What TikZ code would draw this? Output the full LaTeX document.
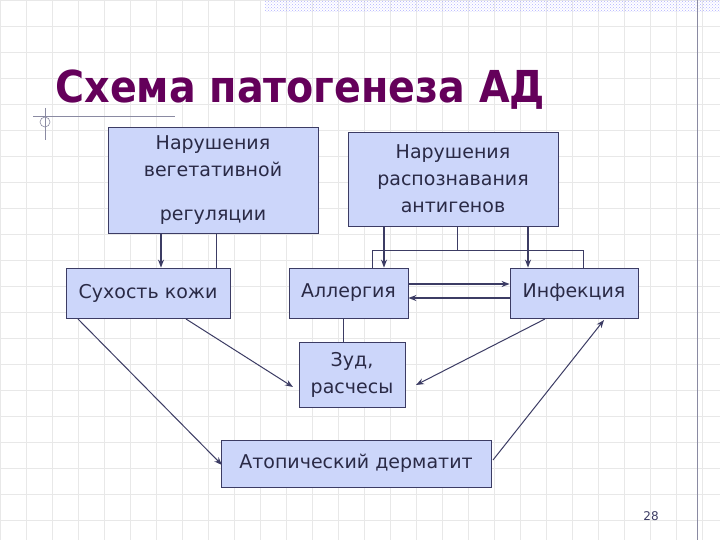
\documentclass[tikz,border=0pt]{standalone}
\usepackage{fontspec}
\setmainfont{DejaVu Sans}
\newfontfamily\titlefont{DejaVu Sans Condensed Bold}
\usetikzlibrary{arrows.meta,patterns}
\definecolor{boxfill}{RGB}{204,214,250}
\definecolor{ln}{RGB}{60,60,100}
\definecolor{ttl}{RGB}{100,0,90}
\tikzset{x=1pt,y=-1pt,
 bx/.style={draw=ln,fill=boxfill,line width=0.8pt,align=center,font=\fontsize{19}{27}\selectfont,inner sep=0pt,text=ln!70!black},
 ar/.style={draw=ln,line width=1.3pt,-{Stealth[length=8pt,width=6pt]}},
 pl/.style={draw=ln,line width=0.7pt}}
\begin{document}
\begin{tikzpicture}
\useasboundingbox (0,0) rectangle (720,540);
\fill[white] (0,0) rectangle (720,540);
\foreach \k in {0,...,28}{
 \draw[gray!18,line width=0.5pt] (\k*26,0) -- (\k*26,540);
 \draw[gray!18,line width=0.5pt] (0,\k*26) -- (720,\k*26);}
\fill[pattern=crosshatch dots,pattern color=blue!30] (265,0) rectangle (720,12);
\draw[ln!60,line width=0.6pt] (697,0) -- (697,540);
\draw[ln!60,line width=0.6pt] (33,116) -- (175,116);
\draw[ln!60,line width=0.6pt] (45,108) -- (45,140);
\draw[ln!60,line width=0.6pt] (45,122) circle (5);
\node[anchor=west,text=ttl,font=\titlefont\fontsize{44}{50}\selectfont] (title) at (52,90) {Схема патогенеза АД};
\node[bx,minimum width=210,minimum height=106] (b1) at (213,180) {};
\node[font=\fontsize{19}{27}\selectfont,text=ln!70!black,align=center,anchor=north] (b1t) at (213,132) {Нарушения\\вегетативной\\[17pt]регуляции};
\node[bx,minimum width=210,minimum height=94] (b2) at (453,179) {Нарушения\\распознавания\\антигенов};
\node[bx,minimum width=164,minimum height=50] (s) at (148,293) {Сухость кожи};
\node[bx,minimum width=119,minimum height=50] (a) at (348.5,293) {Аллергия};
\node[bx,minimum width=128,minimum height=50] (i) at (574,293) {Инфекция};
\node[bx,minimum width=106,minimum height=65] (z) at (352,374.5) {Зуд,\\расчесы};
\node[bx,minimum width=270,minimum height=47] (d) at (356,463.5) {Атопический дерматит};
\node[font=\fontsize{12}{14}\selectfont,text=ln] (pg) at (651,516) {28};
\draw[ar] (b1.south -| 161,0) -- (s.north -| 161,0);
\draw[pl] (b1.south -| 216,0) -- (s.north -| 216,0);
\draw[ar] (b2.south -| 384,0) -- (a.north -| 384,0);
\draw[ar] (b2.south -| 528,0) -- (i.north -| 528,0);
\coordinate (m) at (457,250);
\draw[pl] (b2.south -| m) -- (m);
\draw[pl] (a.north -| 372,0) -- (372,250) -- (583,250) -- (i.north -| 583,0);
\draw[ar] (a.east |- 0,284) -- (i.west |- 0,284);
\draw[ar] (i.west |- 0,298) -- (a.east |- 0,298);
\draw[pl] (a.south -| 343,0) -- (z.north -| 343,0);
\draw[ar,line width=1pt] (186,319) -- (293,387);
\draw[ar,line width=1pt] (545,319) -- (416,385);
\draw[ar,line width=1pt] (78,319) -- (222,465);
\draw[ar,line width=1pt] (493,460) -- (604,320);
\end{tikzpicture}
\end{document}
